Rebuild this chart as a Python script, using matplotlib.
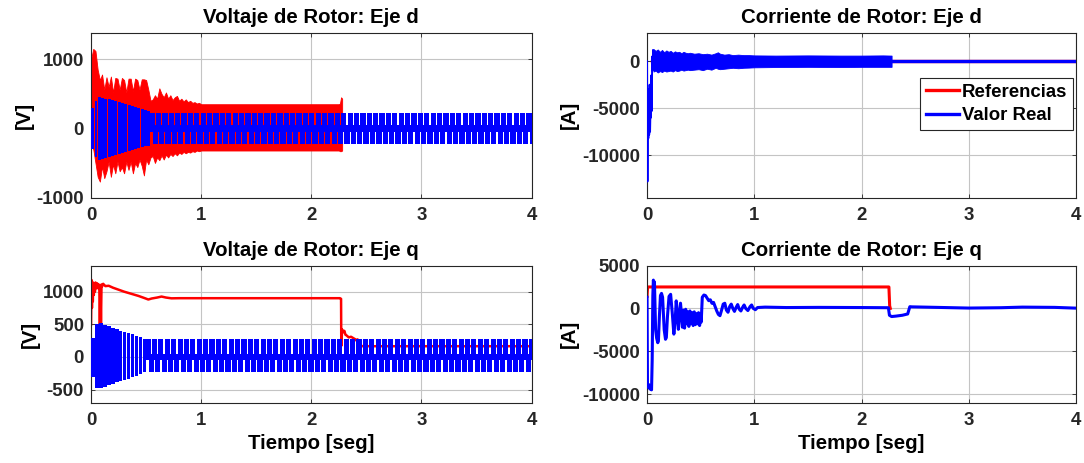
import numpy as np
import matplotlib
matplotlib.use('Agg')
import matplotlib.pyplot as plt

plt.rcParams['font.family'] = ['Liberation Sans', 'DejaVu Sans']
plt.rcParams['font.weight'] = 'bold'
plt.rcParams['axes.unicode_minus'] = False

RED = '#ff0000'
BLUE = '#0000ff'

# ---------------- data: Voltaje de Rotor, Eje d ----------------
vd_ref_t = [0.00, 0.02, 0.04, 0.06, 0.08, 0.10, 0.12, 0.14, 0.16, 0.18, 0.20, 0.22, 0.24, 0.26,
            0.28, 0.30, 0.32, 0.34, 0.36, 0.38, 0.40, 0.42, 0.44, 0.46, 0.48, 0.50, 0.52, 0.54,
            0.56, 0.58, 0.60, 0.62, 0.64, 0.66, 0.68, 0.70, 0.72, 0.74, 0.76, 0.78, 0.80, 0.82,
            0.84, 0.86, 0.88, 0.90, 0.92, 0.94, 0.96, 0.98, 1.00, 1.50, 2.00, 2.25, 2.26, 2.27, 2.28]
vd_ref_hi = [1000, 1150, 1120, 850, 700, 780, 560, 740, 600, 750, 520, 730, 720, 560,
             730, 700, 520, 720, 720, 540, 720, 700, 560, 710, 710, 700, 560, 400,
             420, 480, 430, 580, 500, 450, 520, 430, 480, 410, 450, 470, 400, 430,
             390, 420, 380, 400, 370, 380, 360, 370, 350, 350, 350, 350, 360, 450, 430]
vd_ref_lo = [-250, -300, -500, -700, -770, -550, -720, -620, -480, -700, -520, -650, -480, -620,
             -560, -650, -480, -600, -480, -650, -500, -560, -450, -540, -680, -450, -520, -420,
             -400, -500, -420, -460, -390, -450, -380, -420, -370, -400, -360, -390, -350, -370,
             -340, -360, -340, -350, -330, -340, -320, -330, -320, -320, -320, -320, -330, -330, -320]
vd_ref_tail_t = [2.28, 4.0]
vd_ref_tail = [0, 0]

vd_tr_period = 0.03
vd_tr_hi = [300, 400, 450, 440, 430, 420, 410, 395, 380, 365, 350, 335, 320, 305, 290, 275, 262, 250]
vd_tr_lo = [-300, -420, -450, -440, -430, -415, -400, -385, -370, -355, -340, -325, -310, -295,
            -280, -268, -258, -250]
vd_ss_period = 0.058
vd_ss_hi = [220] * 60
vd_ss_lo = [-220] * 60

# ---------------- data: Voltaje de Rotor, Eje q ----------------
vq_ref_t = [0.000, 0.004, 0.008, 0.012, 0.016, 0.020, 0.025, 0.030, 0.035, 0.040, 0.045, 0.050,
            0.055, 0.060, 0.065, 0.070, 0.075, 0.080, 0.085, 0.090, 0.095, 0.100, 0.110, 0.130,
            0.160, 0.200, 0.250, 0.300, 0.370, 0.430, 0.480, 0.520, 0.550, 0.600, 0.640, 0.680,
            0.730, 0.800, 1.000, 1.500, 2.000, 2.260, 2.270, 2.272, 2.280, 2.290, 2.300, 2.310,
            2.320, 2.340, 2.360, 2.380, 2.400, 2.410, 2.420, 2.430, 2.440, 2.460, 3.000, 4.000]
vq_ref = [500, 1180, 750, 1150, 850, 1130, 950, 1120, 1000, 1140, 1050, 1130,
          1060, 1120, 1050, 1110, 1080, 490, 1100, 520, 1110, 1080, 1120, 1085,
          1090, 1060, 1030, 1000, 965, 935, 905, 880, 895, 910, 925, 910,
          898, 900, 900, 900, 900, 900, 890, 170, 420, 380, 400, 340,
          330, 300, 310, 290, 270, 250, 270, 180, 200, 165, 165, 165]

vq_tr_period = 0.036
vq_tr_hi = [290, 500, 516, 490, 470, 450, 425, 405, 385, 365, 345, 325, 300, 280]
vq_tr_lo = [-300, -470, -479, -455, -435, -415, -390, -370, -350, -330, -310, -290, -260, -235]
vq_ss_period = 0.058
vq_ss_hi = [270] * 61
vq_ss_lo = [-225] * 61

# ---------------- data: Corriente de Rotor, Eje d ----------------
id_ref_t = [0.05, 4.0]
id_ref = [0, 0]
id_tr_t = [0.000, 0.004, 0.008, 0.012, 0.016, 0.020, 0.024, 0.028, 0.032, 0.036, 0.040,
           0.044, 0.048, 0.052, 0.056, 0.060]
id_tr = [0, -12800, -3000, -8200, -5000, -7800, -2500, -7500, -5200, -6000, -1500,
         -5300, 500, -1000, 1200, 0]
id_band_t = [0.06, 0.08, 0.10, 0.12, 0.14, 0.16, 0.18, 0.20, 0.22, 0.24, 0.26, 0.28, 0.30,
             0.32, 0.34, 0.36, 0.38, 0.40, 0.44, 0.48, 0.52, 0.56, 0.60, 0.64, 0.66, 0.68,
             0.72, 0.76, 0.80, 0.85, 0.90, 0.95, 1.00, 1.20, 1.50, 1.80, 2.00, 2.20, 2.28]
id_band_hi = [1300, 1100, 1250, 1000, 1200, 950, 1150, 1000, 1100, 900, 1050, 950, 1000,
              850, 1000, 900, 850, 900, 800, 850, 750, 800, 700, 850, 950, 800,
              700, 750, 650, 700, 650, 650, 620, 600, 620, 600, 600, 620, 600]
id_band_lo = [-1100, -1000, -1200, -1050, -1150, -1000, -1100, -1050, -1000, -1100, -950, -1050,
              -1000, -900, -1000, -950, -900, -950, -900, -850, -950, -800, -900, -700, -800,
              -850, -800, -750, -700, -750, -700, -680, -650, -620, -600, -620, -600, -600, -600]
id_tail_t = [2.28, 4.0]
id_tail = [0, 0]

# ---------------- data: Corriente de Rotor, Eje q ----------------
iq_ref_t = [0.0, 0.005, 2.255, 2.262, 2.268]
iq_ref = [1400, 2500, 2500, 300, 0]
iq_t = [0.000, 0.004, 0.010, 0.018, 0.026, 0.034, 0.042, 0.048, 0.054, 0.059, 0.064, 0.069,
        0.074, 0.080, 0.090, 0.100, 0.106, 0.115, 0.125, 0.135, 0.145, 0.160, 0.172, 0.180,
        0.190, 0.205, 0.220, 0.235, 0.250, 0.262, 0.272, 0.282, 0.292, 0.302, 0.312, 0.320,
        0.330, 0.340, 0.350, 0.360, 0.370, 0.380, 0.390, 0.400, 0.410, 0.420, 0.430, 0.440,
        0.450, 0.460, 0.470, 0.480, 0.490, 0.500, 0.505, 0.515, 0.530, 0.545, 0.560, 0.575,
        0.590, 0.605, 0.620, 0.635, 0.650, 0.665, 0.680, 0.695, 0.710, 0.725, 0.740, 0.755,
        0.770, 0.785, 0.800, 0.815, 0.830, 0.845, 0.860, 0.875, 0.890, 0.905, 0.920, 0.940,
        0.960, 0.975, 0.990, 1.010, 1.030, 1.100, 1.300, 1.600, 2.000, 2.250, 2.260, 2.280,
        2.320, 2.380, 2.430, 2.450, 2.470, 2.700, 3.000, 3.300, 3.500, 3.800, 4.000]
iq = [1300, -8800, -9200, -8900, -9400, -9000, -9500, -6000, 1500, 3300, 2800, 3100,
      500, -2500, -3500, -4000, -3800, -1000, 1500, 1750, 1300, -2500, -3600, -3400,
      -1000, 1400, 1640, -500, -3000, -1500, 880, -500, -2440, -800, 610, -500,
      -2200, -200, -2300, -100, -1800, -400, -2100, -300, -1700, -500, -2000, -400,
      -1900, -600, -1800, -500, -2000, -700, -1600, 1300, 1560, 1500, 1200, 900,
      1000, 600, 700, 200, -300, -700, -850, -200, 500, 600, -200, -450,
      200, 500, 0, -350, 100, 450, -100, -300, 100, 400, 0, -250,
      200, 400, 0, -150, 100, 150, 100, 120, 100, 80, -800, -950,
      -900, -800, -650, 200, 180, 120, 40, 80, 150, 120, 30]

x_ticks = [0, 1, 2, 3, 4]
titles = ['Voltaje de Rotor: Eje d', 'Corriente de Rotor: Eje d',
          'Voltaje de Rotor: Eje q', 'Corriente de Rotor: Eje q']
ylabels = ['[V]', '[A]', '[V]', '[A]']
xlabel = 'Tiempo [seg]'
legend_labels = ['Referencias', 'Valor Real']

# ---------------- drawing ----------------
TICK_FS = 13.4
LAB_FS = 14.7


def draw_blocks(ax, t0, period, hi, lo, duty, mid=None):
    hi = np.asarray(hi, float)
    lo = np.asarray(lo, float)
    k = np.arange(len(hi))
    w = duty * period
    if mid is None:
        c = t0 + period * (k + 0.5)
        ax.bar(c, hi - lo, bottom=lo, width=w, color=BLUE, linewidth=0, zorder=3)
    else:
        ct = t0 + period * (k + 0.25)
        cb = t0 + period * (k + 0.75)
        ax.bar(ct, hi + mid, bottom=-mid, width=w, color=BLUE, linewidth=0, zorder=3)
        ax.bar(cb, mid - lo, bottom=lo, width=w, color=BLUE, linewidth=0, zorder=3)
    return t0 + period * len(hi)


def style(ax, title, ylabel, ylim, yticks, show_xlabel):
    ax.set_xlim(0, 4)
    ax.set_ylim(*ylim)
    ax.set_xticks(x_ticks)
    ax.set_xticklabels([str(v) for v in x_ticks])
    ax.set_yticks(yticks)
    ax.set_yticklabels([str(v) for v in yticks])
    ax.tick_params(direction='in', length=3, width=0.6, top=True, right=True,
                   labelsize=TICK_FS, colors='#262626')
    ax.tick_params(axis='x', pad=7)
    ax.tick_params(axis='y', pad=5)
    for lab in ax.get_xticklabels() + ax.get_yticklabels():
        lab.set_fontweight('bold')
    for sp in ax.spines.values():
        sp.set_color('#262626')
        sp.set_linewidth(0.8)
    ax.grid(True, color='#c4c4c4', linewidth=0.8)
    ax.set_axisbelow(True)
    ax.set_title(title, fontsize=LAB_FS, fontweight='bold', pad=7)
    ax.set_ylabel(ylabel, fontsize=LAB_FS, fontweight='bold', labelpad=2)
    if show_xlabel:
        ax.set_xlabel(xlabel, fontsize=LAB_FS, fontweight='bold', labelpad=3)


fig = plt.figure(figsize=(10.84, 4.63), dpi=100)
ax_vd = fig.add_axes([0.0840, 0.5734, 0.4064, 0.3553])
ax_id = fig.add_axes([0.5969, 0.5734, 0.3958, 0.3553])
ax_vq = fig.add_axes([0.0840, 0.1302, 0.4064, 0.2963])
ax_iq = fig.add_axes([0.5969, 0.1302, 0.3958, 0.2963])

# Voltaje d
ax_vd.fill_between(vd_ref_t, vd_ref_lo, vd_ref_hi, color=RED, linewidth=0.6, edgecolor=RED, zorder=2)
ax_vd.plot(vd_ref_tail_t, vd_ref_tail, color=RED, linewidth=1.2, zorder=2)
t_end = draw_blocks(ax_vd, 0.0, vd_tr_period, vd_tr_hi, vd_tr_lo, 0.9)
draw_blocks(ax_vd, t_end, vd_ss_period, vd_ss_hi, vd_ss_lo, 0.82, mid=45)
style(ax_vd, titles[0], ylabels[0], (-1000, 1380), [-1000, 0, 1000], False)

# Corriente d
ref_line, = ax_id.plot(id_ref_t, id_ref, color=RED, linewidth=2.4, zorder=2)
ax_id.plot(id_tr_t, id_tr, color=BLUE, linewidth=1.4, zorder=3)
ax_id.fill_between(id_band_t, id_band_lo, id_band_hi, color=BLUE, edgecolor=BLUE,
                   linewidth=0.6, zorder=3)
real_line, = ax_id.plot(id_tail_t, id_tail, color=BLUE, linewidth=2.4, zorder=3)
style(ax_id, titles[1], ylabels[1], (-14500, 3000), [-10000, -5000, 0], False)
leg = ax_id.legend([ref_line, real_line], legend_labels, loc='upper right',
                   bbox_to_anchor=(0.993, 0.725), borderaxespad=0, fontsize=TICK_FS,
                   fancybox=False, framealpha=1, edgecolor='#262626', handlelength=1.8,
                   handletextpad=0.15, borderpad=0.3, labelspacing=0.35)
leg.get_frame().set_linewidth(0.8)
for txt in leg.get_texts():
    txt.set_fontweight('bold')

# Voltaje q
ax_vq.plot(vq_ref_t, vq_ref, color=RED, linewidth=1.8, zorder=2)
t_end = draw_blocks(ax_vq, 0.0, vq_tr_period, vq_tr_hi, vq_tr_lo, 0.85)
draw_blocks(ax_vq, t_end, vq_ss_period, vq_ss_hi, vq_ss_lo, 0.8, mid=45)
style(ax_vq, titles[2], ylabels[2], (-700, 1400), [-500, 0, 500, 1000], True)

# Corriente q
ax_iq.plot(iq_ref_t, iq_ref, color=RED, linewidth=2.2, zorder=2)
ax_iq.plot(iq_t, iq, color=BLUE, linewidth=2.2, zorder=3)
style(ax_iq, titles[3], ylabels[3], (-11000, 5000), [-10000, -5000, 0, 5000], True)

fig.savefig('out.png', dpi=100, facecolor='white')
